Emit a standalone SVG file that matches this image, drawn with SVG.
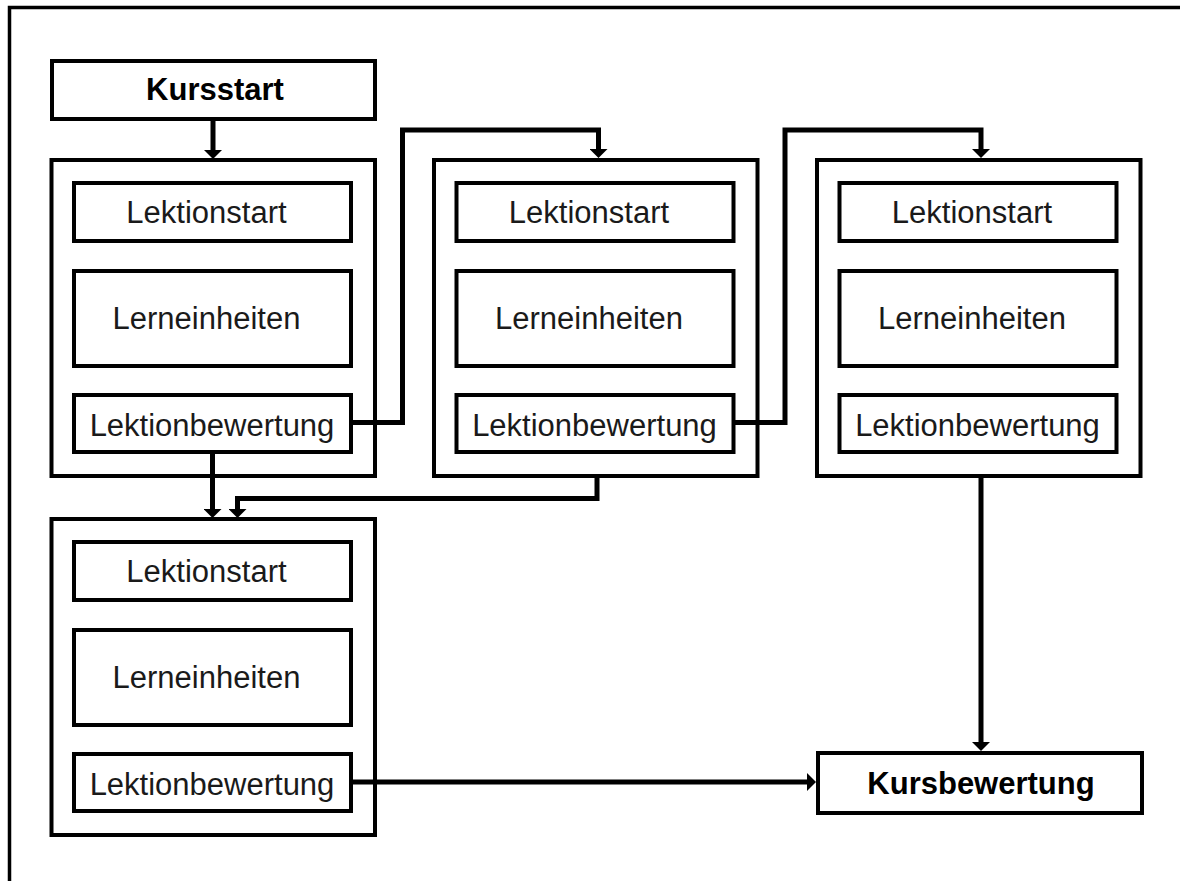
<svg xmlns="http://www.w3.org/2000/svg" width="1180" height="881" viewBox="0 0 1180 881">
  <style>
    .box { fill: #fff; stroke: #000; stroke-width: 4; }
    .frame { fill: none; stroke: #000; stroke-width: 3.5; }
    .wire { fill: none; stroke: #000; stroke-width: 5; stroke-linejoin: miter; }
    .lbl { font-family: "Liberation Sans", Arial, sans-serif; font-size: 31px; fill: #1a1a1a; text-anchor: middle; }
    .bold { font-weight: bold; fill: #000; }
  </style>
  <defs>
    <marker id="arrow" markerUnits="userSpaceOnUse" markerWidth="9" markerHeight="18" viewBox="0 0 9 18" refX="0" refY="9" orient="auto">
      <path d="M0 0 L9 9 L0 18 Z" fill="#000"/>
    </marker>
    <!-- one lesson block: start, units, assessment -->
    <g id="lesson">
      <rect class="box" x="51.5" y="160" width="323.5" height="316"/>
      <rect class="box" x="74" y="183" width="277" height="58"/>
      <rect class="box" x="74" y="271" width="277" height="95"/>
      <rect class="box" x="74" y="395" width="277" height="57"/>
      <text class="lbl" x="206.5" y="222.5">Lektionstart</text>
      <text class="lbl" x="206.5" y="328.5">Lerneinheiten</text>
      <text class="lbl" x="212" y="436">Lektionbewertung</text>
    </g>
  </defs>

  <rect width="1180" height="881" fill="#fff"/>
  <path class="frame" d="M9.5 881 V7.5 H1180"/>

  <g id="kursstart">
    <rect class="box" x="52" y="61" width="323" height="58"/>
    <text class="lbl bold" x="215" y="99.5">Kursstart</text>
  </g>

  <g id="lektion1"><use href="#lesson"/></g>
  <g id="lektion2"><use href="#lesson" transform="translate(382.5,0)"/></g>
  <g id="lektion3"><use href="#lesson" transform="translate(765.5,0)"/></g>
  <g id="lektion4"><use href="#lesson" transform="translate(0,359)"/></g>

  <g id="kursbewertung">
    <rect class="box" x="818" y="753" width="324" height="60"/>
    <text class="lbl bold" x="981" y="794">Kursbewertung</text>
  </g>

  <g id="connectors">
    <path class="wire" marker-end="url(#arrow)" d="M213 119 V150"/>
    <path class="wire" marker-end="url(#arrow)" d="M351 422.5 H402.5 V130 H598.5 V149"/>
    <path class="wire" marker-end="url(#arrow)" d="M733.5 422.5 H785 V130 H981 V149"/>
    <path class="wire" marker-end="url(#arrow)" d="M212.5 452 V509"/>
    <path class="wire" marker-end="url(#arrow)" d="M597 476 V498.5 H237.5 V509"/>
    <path class="wire" marker-end="url(#arrow)" d="M981 476 V742"/>
    <path class="wire" marker-end="url(#arrow)" d="M351 782 H807"/>
  </g>
</svg>
